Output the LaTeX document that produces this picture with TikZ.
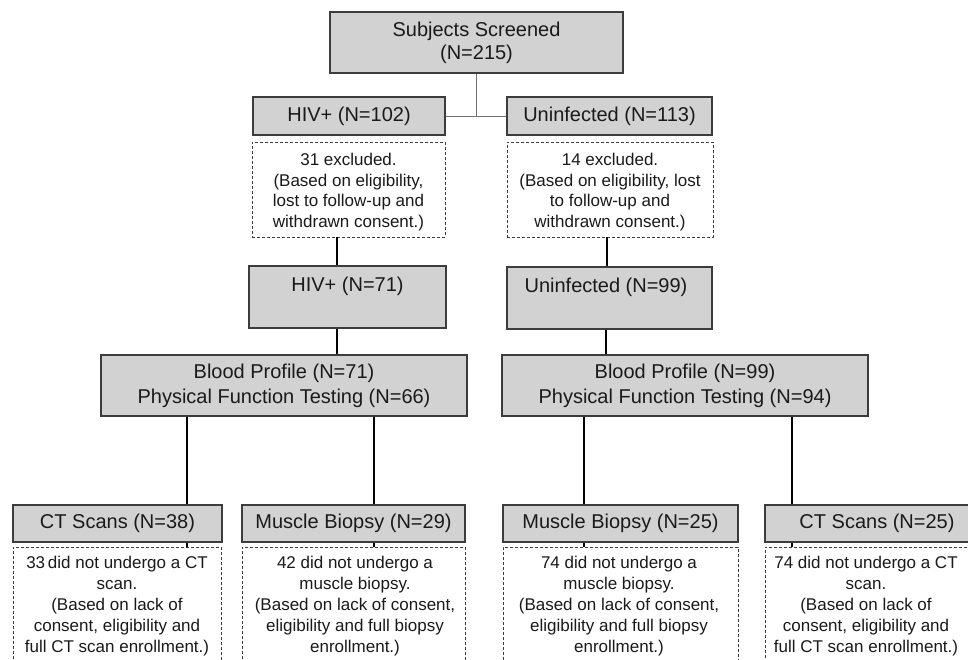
\documentclass[tikz,border=0pt]{standalone}
\usepackage{fontspec}
\setmainfont{Liberation Sans}
\newcommand\bigtxt{\fontsize{20}{23}\selectfont}
\newcommand\bptxt{\fontsize{20}{25}\selectfont}
\newcommand\smalltxt{\fontsize{17}{20.5}\selectfont}
\newcommand\bottomtxt{\fontsize{17}{21}\selectfont}
\definecolor{boxfill}{HTML}{D2D2D2}
\definecolor{boxline}{HTML}{3C3C3C}
\definecolor{txt}{HTML}{1A1A1A}
\definecolor{thinc}{HTML}{707070}
\begin{document}
\begin{tikzpicture}[x=1pt,y=-1pt,
  graybox/.style={draw=boxline, fill=boxfill, line width=1.1pt, inner sep=0pt, align=center, text=txt, font=\bigtxt},
  dashbox/.style={draw=boxline, fill=white, line width=0.9pt, dash pattern=on 3pt off 2pt, inner sep=0pt},
  smallnote/.style={align=center, text=txt, font=\smalltxt, inner sep=0pt},
  bottomnote/.style={align=center, text=txt, font=\bottomtxt, inner sep=0pt, anchor=north},
  labeltext/.style={align=center, text=txt, font=\bigtxt, inner sep=0pt},
  thickline/.style={line width=2.6pt, black},
  thinline/.style={line width=1pt, thinc}]
\useasboundingbox (0,0) rectangle (968,659);
\clip (0,0) rectangle (968,659);

% top level
\node[graybox, minimum width=293pt, minimum height=61pt] (ss) at (476.5,42.5) {Subjects Screened\\(N=215)};
\node[graybox, minimum width=192pt, minimum height=38pt] (hiv102) at (349,116) {HIV+ (N=102)};
\node[graybox, minimum width=205pt, minimum height=38pt] (un113) at (609.5,116) {Uninfected (N=113)};

% exclusion boxes
\node[dashbox, minimum width=193pt, minimum height=95pt] (ex1) at (348.5,189.5) {};
\node[smallnote] (ex1t) at (348.5,192) {31 excluded.\\(Based on eligibility,\\lost to follow-up and\\withdrawn consent.)};
\node[dashbox, minimum width=206pt, minimum height=95pt] (ex2) at (610,189.5) {};
\node[smallnote] (ex2t) at (610,192) {14 excluded.\\(Based on eligibility, lost\\to follow-up and\\withdrawn consent.)};

% groups
\node[graybox, minimum width=197pt, minimum height=62pt] (hiv71) at (347.5,297) {};
\node[labeltext] (hiv71t) at (347.5,286) {HIV+ (N=71)};
\node[graybox, minimum width=205pt, minimum height=62pt] (un99) at (609.5,298) {};
\node[labeltext] (un99t) at (606,287) {Uninfected (N=99)};

% blood profile
\node[graybox, font=\bptxt, minimum width=366pt, minimum height=61pt] (bp1) at (284,385.5) {Blood Profile (N=71)\\Physical Function Testing (N=66)};
\node[graybox, font=\bptxt, minimum width=366pt, minimum height=61pt] (bp2) at (685,385.5) {Blood Profile (N=99)\\Physical Function Testing (N=94)};

% bottom boxes
\node[graybox, minimum width=209pt, minimum height=37pt] (ct1) at (117.5,523.5) {CT Scans (N=38)};
\node[graybox, minimum width=223pt, minimum height=37pt] (mb1) at (353.5,523.5) {Muscle Biopsy (N=29)};
\node[graybox, minimum width=235pt, minimum height=37pt] (mb2) at (620.5,523.5) {Muscle Biopsy (N=25)};
\node[graybox, minimum width=224pt, minimum height=37pt] (ct2) at (877,523.5) {CT Scans (N=25)};

% bottom dashed boxes
\node[dashbox, minimum width=208pt, minimum height=140pt, anchor=north] (d1) at (117,547) {};
\node[dashbox, minimum width=223pt, minimum height=140pt, anchor=north] (d2) at (353.5,547) {};
\node[dashbox, minimum width=235pt, minimum height=140pt, anchor=north] (d3) at (620.5,547) {};
\node[dashbox, minimum width=206pt, minimum height=140pt, anchor=north] (d4) at (868,547) {};
\node[bottomnote] (d1t) at (117,556) {33\,did not undergo a CT\\scan.\\(Based on lack of\\consent, eligibility and\\full CT scan enrollment.)};
\node[bottomnote] (d2t) at (355,556) {42 did not undergo a\\muscle biopsy.\\(Based on lack of consent,\\eligibility and full biopsy\\enrollment.)};
\node[bottomnote] (d3t) at (619,556) {74 did not undergo a\\muscle biopsy.\\(Based on lack of consent,\\eligibility and full biopsy\\enrollment.)};
\node[bottomnote] (d4t) at (866,556) {74 did not undergo a CT\\scan.\\(Based on lack of\\consent, eligibility and\\full CT scan enrollment.)};

% connectors
\draw[thinline] (ss.south) -- (ss.south |- hiv102.east);
\draw[thinline] (hiv102.east) -- (un113.west);
\draw[thickline] (337,0 |- ex1.south) -- (337,0 |- hiv71.north);
\draw[thickline] (337,0 |- hiv71.south) -- (337,0 |- bp1.north);
\draw[thickline] (607,0 |- ex2.south) -- (607,0 |- un99.north);
\draw[thickline] (606,0 |- un99.south) -- (606,0 |- bp2.north);
\draw[thickline] (187,0 |- bp1.south) -- (187,0 |- ct1.north);
\draw[thickline] (187,0 |- ct1.south) -- (187,0 |- d1.north);
\draw[thickline] (374,0 |- bp1.south) -- (374,0 |- mb1.north);
\draw[thickline] (374,0 |- mb1.south) -- (374,0 |- d2.north);
\draw[thickline] (584,0 |- bp2.south) -- (584,0 |- mb2.north);
\draw[thickline] (584,0 |- mb2.south) -- (584,0 |- d3.north);
\draw[thickline] (792,0 |- bp2.south) -- (792,0 |- ct2.north);
\draw[thickline] (792,0 |- ct2.south) -- (792,0 |- d4.north);
\end{tikzpicture}
\end{document}
